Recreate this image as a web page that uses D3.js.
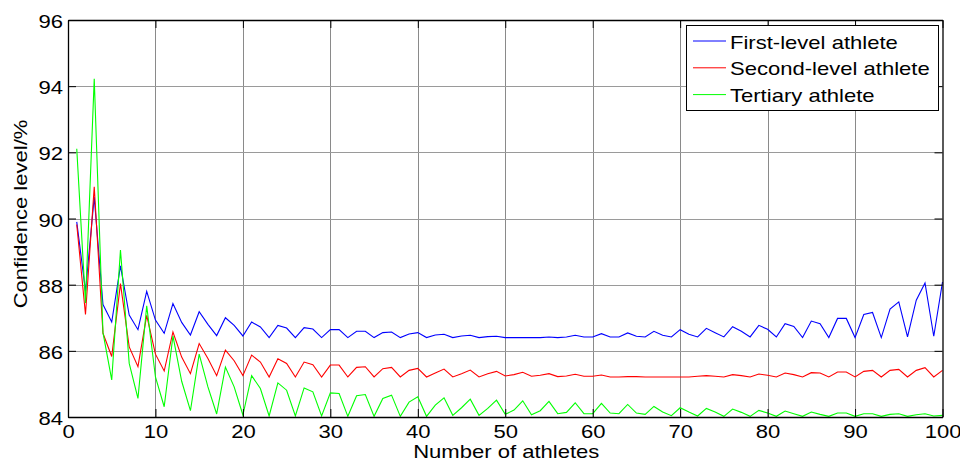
<!DOCTYPE html>
<html>
<head>
<meta charset="utf-8">
<script src="https://cdn.jsdelivr.net/npm/d3@7"></script>
<style>
  body { margin: 0; background: #fff; }
  svg { display: block; }
  text { font-family: "Liberation Sans", Arial, sans-serif; fill: #000; }
</style>
</head>
<body>
<div id="chart"></div>
<script>
const athletes = d3.range(1, 101);

const firstLevel = [
  89.9, 87.8, 90.65, 87.4, 86.87, 88.57, 87.08, 86.64, 87.8, 86.93,
  86.53, 87.43, 86.86, 86.48, 87.18, 86.8, 86.46, 87.0, 86.77, 86.45,
  86.87, 86.72, 86.4, 86.77, 86.69, 86.4, 86.7, 86.66, 86.4, 86.64,
  86.64, 86.4, 86.59, 86.59, 86.4, 86.55, 86.57, 86.4, 86.51, 86.55,
  86.4, 86.48, 86.5, 86.4, 86.45, 86.47, 86.4, 86.43, 86.44, 86.4,
  86.4, 86.4, 86.4, 86.4, 86.42, 86.4, 86.42, 86.47, 86.42, 86.42,
  86.52, 86.42, 86.42, 86.54, 86.44, 86.42, 86.59, 86.47, 86.42, 86.64,
  86.5, 86.42, 86.68, 86.55, 86.42, 86.73, 86.59, 86.42, 86.77, 86.65,
  86.42, 86.82, 86.74, 86.4, 86.9, 86.82, 86.4, 86.98, 86.98, 86.4,
  87.1, 87.16, 86.4, 87.26, 87.48, 86.42, 87.53, 88.05, 86.44, 88.08
];

const secondLevel = [
  89.82, 87.1, 90.96, 86.53, 85.83, 88.03, 86.12, 85.52, 87.07, 85.9,
  85.39, 86.57, 85.81, 85.31, 86.22, 85.77, 85.25, 86.02, 85.7, 85.25,
  85.87, 85.66, 85.21, 85.76, 85.62, 85.21, 85.66, 85.58, 85.21, 85.57,
  85.57, 85.21, 85.5, 85.52, 85.21, 85.46, 85.5, 85.21, 85.41, 85.47,
  85.21, 85.33, 85.45, 85.21, 85.31, 85.42, 85.21, 85.31, 85.38, 85.24,
  85.28, 85.35, 85.23, 85.26, 85.31, 85.22, 85.24, 85.29, 85.23, 85.23,
  85.27, 85.21, 85.21, 85.22, 85.22, 85.21, 85.21, 85.21, 85.21, 85.21,
  85.21, 85.23, 85.25, 85.23, 85.21, 85.28, 85.25, 85.21, 85.3, 85.26,
  85.21, 85.33, 85.28, 85.21, 85.34, 85.33, 85.21, 85.36, 85.36, 85.21,
  85.38, 85.41, 85.21, 85.41, 85.44, 85.21, 85.41, 85.49, 85.21, 85.41
];

const tertiary = [
  92.11, 87.45, 94.22, 86.55, 85.12, 89.05, 85.62, 84.56, 87.36, 85.21,
  84.31, 86.45, 85.08, 84.19, 85.9, 84.91, 84.09, 85.51, 84.91, 84.06,
  85.25, 84.86, 84.03, 85.03, 84.81, 84.03, 84.88, 84.76, 84.03, 84.73,
  84.71, 84.02, 84.64, 84.68, 84.02, 84.56, 84.66, 84.02, 84.45, 84.61,
  84.02, 84.36, 84.58, 84.05, 84.28, 84.54, 84.05, 84.26, 84.51, 84.08,
  84.21, 84.49, 84.07, 84.19, 84.47, 84.1, 84.14, 84.43, 84.1, 84.1,
  84.41, 84.12, 84.1, 84.38, 84.12, 84.08, 84.32, 84.15, 84.04, 84.28,
  84.15, 84.03, 84.26, 84.15, 84.02, 84.24, 84.14, 84.02, 84.2, 84.12,
  84.02, 84.18, 84.1, 84.02, 84.15, 84.08, 84.02, 84.12, 84.12, 84.02,
  84.1, 84.1, 84.02, 84.08, 84.1, 84.02, 84.07, 84.1, 84.03, 84.05
];

const seriesNames = ['First-level athlete', 'Second-level athlete', 'Tertiary athlete'];
const seriesColors = ['#0000ff', '#ff0000', '#00ff00'];
const xTicks = [0, 10, 20, 30, 40, 50, 60, 70, 80, 90, 100];
const yTicks = [84, 86, 88, 90, 92, 94, 96];

const width = 960;
const height = 463;
const margin = { top: 20, right: 17.5, bottom: 46, left: 68 };
const innerW = width - margin.left - margin.right;
const innerH = height - margin.top - margin.bottom;
const stretchX = 1.16;

const x = d3.scaleLinear().domain([0, 100]).range([0, innerW]);
const y = d3.scaleLinear().domain([84, 96]).range([innerH, 0]);

const svg = d3.select('#chart').append('svg')
  .attr('width', width)
  .attr('height', height);

const g = svg.append('g')
  .attr('transform', `translate(${margin.left},${margin.top})`);

// grid
g.append('g')
  .selectAll('line')
  .data(xTicks.slice(1, -1))
  .join('line')
    .attr('x1', d => Math.round(x(d)) + 0.5)
    .attr('x2', d => Math.round(x(d)) + 0.5)
    .attr('y1', 0)
    .attr('y2', innerH)
    .attr('stroke', '#8a8a8a')
    .attr('stroke-width', 1);
g.append('g')
  .selectAll('line')
  .data(yTicks.slice(1, -1))
  .join('line')
    .attr('x1', 0)
    .attr('x2', innerW)
    .attr('y1', d => Math.round(y(d)) + 0.5)
    .attr('y2', d => Math.round(y(d)) + 0.5)
    .attr('stroke', '#9a9a9a')
    .attr('stroke-width', 1);

// lines
const series = [firstLevel, secondLevel, tertiary];
const line = d3.line()
  .x((d, i) => x(athletes[i]))
  .y(d => y(d));

g.append('g')
  .selectAll('path')
  .data(series)
  .join('path')
    .attr('d', line)
    .attr('fill', 'none')
    .attr('stroke', (d, i) => seriesColors[i])
    .attr('stroke-width', 1.1)
    .attr('stroke-linejoin', 'miter');

// axes (ticks inward)
const tickLen = 8;
const xAxisBottom = d3.axisBottom(x).tickValues(xTicks).tickSizeInner(-tickLen).tickSizeOuter(0).tickPadding(12).tickFormat(d3.format('d'));
const xAxisTop = d3.axisTop(x).tickValues(xTicks).tickSizeInner(-tickLen).tickSizeOuter(0).tickFormat('');
const yAxisLeft = d3.axisLeft(y).tickValues(yTicks).tickSizeInner(-tickLen).tickSizeOuter(0).tickPadding(5).tickFormat(d3.format('d'));
const yAxisRight = d3.axisRight(y).tickValues(yTicks).tickSizeInner(-tickLen).tickSizeOuter(0).tickFormat('');

function styleAxis(sel) {
  sel.select('.domain').attr('stroke', '#000').attr('stroke-width', 1.3);
  sel.selectAll('.tick line').attr('stroke', '#000').attr('stroke-width', 1);
  sel.selectAll('.tick text').attr('font-size', 19).attr('font-family', '"Liberation Sans", Arial, sans-serif').attr('fill', '#000');
}

const gx = g.append('g').attr('transform', `translate(0,${innerH})`).call(xAxisBottom).call(styleAxis);
gx.selectAll('.tick text').attr('dy', '0.71em').attr('y', 8);
g.append('g').call(xAxisTop).call(styleAxis);
const gy = g.append('g').call(yAxisLeft).call(styleAxis);
gy.selectAll('.tick text').attr('dy', '0.4em');
g.append('g').attr('transform', `translate(${innerW},0)`).call(yAxisRight).call(styleAxis);

// axis titles
svg.append('text')
  .attr('x', margin.left + innerW / 2 + 1)
  .attr('y', 458)
  .attr('text-anchor', 'middle')
  .attr('font-size', 19)
  .text('Number of athletes');

svg.append('text')
  .attr('transform', 'translate(27,214) rotate(-90)')
  .attr('text-anchor', 'middle')
  .attr('font-size', 19)
  .text('Confidence level/%');

// legend
const legend = svg.append('g').attr('transform', 'translate(686,25)');
legend.append('rect')
  .attr('x', 0.5)
  .attr('y', 0.5)
  .attr('width', 252)
  .attr('height', 85)
  .attr('fill', '#fff')
  .attr('stroke', '#000')
  .attr('stroke-width', 1);

const items = legend.selectAll('.item')
  .data(seriesNames)
  .join('g')
    .attr('class', 'item')
    .attr('transform', (d, i) => `translate(0,${16 + i * 26.8})`);
items.append('line')
  .attr('x1', 7)
  .attr('x2', 40)
  .attr('y1', 0)
  .attr('y2', 0)
  .attr('stroke', (d, i) => seriesColors[i])
  .attr('stroke-width', 1);
items.append('text')
  .attr('x', 44)
  .attr('y', 7.5)
  .attr('font-size', 19)
  .text(d => d);

// the reference text is a touch wider than Arial; stretch glyphs to match
svg.selectAll('text').each(function() {
  const w = this.getComputedTextLength();
  if (w > 0) {
    d3.select(this)
      .attr('textLength', w * stretchX)
      .attr('lengthAdjust', 'spacingAndGlyphs');
  }
});
</script>
</body>
</html>
